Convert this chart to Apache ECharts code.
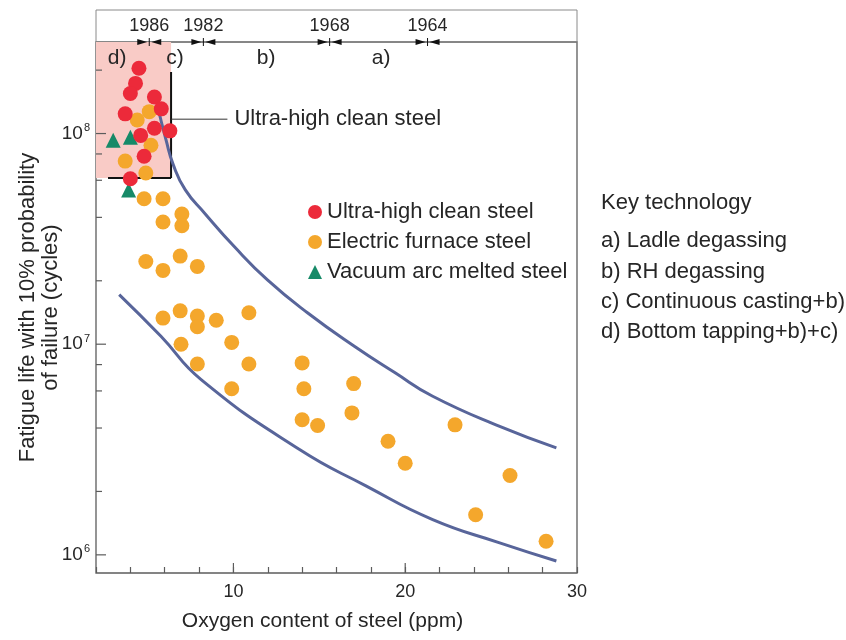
<!DOCTYPE html>
<html>
<head>
<meta charset="utf-8">
<script src="https://cdn.jsdelivr.net/npm/echarts@6/dist/echarts.min.js"></script>
<style>
  html, body { margin: 0; background: #fff; }
  #chart { width: 846px; height: 640px; }
</style>
</head>
<body>
<div id="chart"></div>
<script>
// values: [oxygen ppm, cycles]
const ultraCleanSteel = [
  [4.5, 2.04e8], [4.3, 1.73e8], [4.0, 1.55e8], [5.4, 1.49e8], [5.8, 1.31e8],
  [3.7, 1.24e8], [5.4, 1.06e8], [4.6, 9.8e7], [6.3, 1.03e8], [4.8, 7.8e7], [4.0, 6.1e7]
]
const electricFurnaceSteel = [
  [5.1, 1.27e8], [4.4, 1.16e8], [5.2, 8.8e7], [3.7, 7.4e7], [4.9, 6.5e7],
  [4.8, 4.9e7], [5.9, 4.9e7], [7.0, 4.15e7], [5.9, 3.8e7], [7.0, 3.65e7],
  [4.9, 2.47e7], [6.9, 2.62e7], [5.9, 2.24e7], [7.9, 2.34e7],
  [5.9, 1.33e7], [6.9, 1.44e7], [7.9, 1.36e7], [7.9, 1.21e7], [9.0, 1.3e7], [10.9, 1.41e7],
  [6.95, 1.0e7], [9.9, 1.02e7], [7.9, 8.05e6], [10.9, 8.05e6], [14.0, 8.15e6],
  [9.9, 6.14e6], [14.1, 6.14e6], [14.0, 4.38e6], [14.9, 4.11e6], [17.0, 6.5e6], [16.9, 4.72e6],
  [19.0, 3.46e6], [20.0, 2.72e6], [22.9, 4.14e6], [26.1, 2.38e6], [24.1, 1.55e6], [28.2, 1.16e6]
]
const vacuumArcSteel = [[3.0, 9.3e7], [4.0, 9.6e7], [3.9, 5.4e7]]

// scatter band curves
const upperBand = [
  [5.59, 1.34e8], [6.08, 9.3e7], [6.5, 7.1e7], [7.2, 5.4e7], [8.31, 4.2e7], [10.06, 2.9e7],
  [11.98, 2.02e7], [14.31, 1.41e7], [17.06, 9.75e6], [19.39, 7.33e6], [21.6, 5.66e6],
  [25.5, 4.07e6], [28.8, 3.22e6]
]
const lowerBand = [
  [3.35, 1.72e7], [5.78, 1.09e7], [8.12, 6.79e6], [13.85, 3.16e6], [17.74, 2.12e6],
  [21.6, 1.47e6], [25.5, 1.14e6], [28.8, 9.35e5]
]

// year markers on the top edge and technology periods
const yearLabels = ['1986', '1982', '1968', '1964']
const yearOxygen = [5.1, 8.25, 15.6, 21.3]
const periodLabels = ['d)', 'c)', 'b)', 'a)']
const periodOxygen = [3.23, 6.6, 11.9, 18.6]
const keyTechnology = [
  'a) Ladle degassing',
  'b) RH degassing',
  'c) Continuous casting+b)',
  'd) Bottom tapping+b)+c)'
]

// ultra-high clean steel region: [x0, x1, yLow, yHigh]
const cleanRegion = [2, 6.37, 6.15e7, 2.72e8]

// axis ranges and ticks
const xMin = 2
const xMax = 30
const yMin = 8.2e5
const yMax = 2.72e8
const xMajorTicks = [10, 20]
const yMajorTicks = [1e6, 1e7, 1e8]
const yMinorTicks = [2e6, 4e6, 6e6, 8e6, 2e7, 4e7, 6e7, 8e7, 2e8]

const FONT = '"Liberation Sans", Arial, sans-serif'
const TEXT = '#262626'
const AXIS = '#5c5c5c'
const chart = echarts.init(document.getElementById('chart'))

function tickSeries(values, onY, len) {
  return {
    type: 'custom',
    silent: true,
    z: 5,
    data: values.map(v => (onY ? [xMin, v] : [v, yMin])),
    renderItem: function (params, api) {
      const p = api.coord([api.value(0), api.value(1)])
      const shape = onY
        ? { x1: p[0], y1: p[1], x2: p[0] + len, y2: p[1] }
        : { x1: p[0], y1: p[1], x2: p[0], y2: p[1] - len }
      return { type: 'line', shape: shape, style: { stroke: AXIS, lineWidth: 1.2 } }
    }
  }
}

chart.setOption({
  animation: false,
  textStyle: { fontFamily: FONT, color: TEXT },
  grid: {
    left: 96, right: 269, top: 42, bottom: 67,
    outerBoundsMode: 'none',
    containLabel: false,
    show: true, borderColor: AXIS, borderWidth: 1.3
  },
  legend: {
    orient: 'vertical',
    left: 303,
    top: 196,
    itemWidth: 14,
    itemHeight: 14,
    itemGap: 8,
    textStyle: { fontSize: 22, lineHeight: 22, color: TEXT, fontFamily: FONT },
    data: [
      { name: 'Ultra-high clean steel', icon: 'circle' },
      { name: 'Electric furnace steel', icon: 'circle' },
      { name: 'Vacuum arc melted steel', icon: 'triangle' }
    ]
  },
  graphic: [
    {
      type: 'rect',
      shape: { x: 96, y: 10, width: 481, height: 32 },
      style: { fill: 'none', stroke: '#8a8a8a', lineWidth: 1 }
    },
    {
      type: 'text', left: 601, top: 192,
      style: { text: 'Key technology', font: '22px ' + FONT, fill: TEXT }
    },
    {
      type: 'text', left: 601, top: 226,
      style: { text: keyTechnology.join('\n'), font: '22px ' + FONT, lineHeight: 30.3, fill: TEXT }
    }
  ],
  xAxis: {
    type: 'value',
    min: xMin,
    max: xMax,
    interval: 2,
    name: 'Oxygen content of steel (ppm)',
    nameLocation: 'middle',
    nameGap: 38,
    nameMoveOverlap: false,
    nameTextStyle: { fontSize: 21, color: TEXT, padding: [0, 28, 0, 0] },
    axisLine: { show: false },
    axisTick: { inside: true, length: 6, lineStyle: { color: AXIS, width: 1.2 } },
    splitLine: { show: false },
    axisLabel: {
      fontSize: 18,
      color: TEXT,
      margin: 10,
      formatter: v => (v % 10 === 0 ? String(v) : '')
    }
  },
  yAxis: {
    type: 'log',
    logBase: 10,
    min: yMin,
    max: yMax,
    name: 'Fatigue life with 10% probability\nof failure (cycles)',
    nameLocation: 'middle',
    nameRotate: 90,
    nameGap: 34,
    nameMoveOverlap: false,
    nameTextStyle: { fontSize: 22, lineHeight: 23, color: TEXT, align: 'center' },
    axisLine: { show: false },
    axisTick: { show: false },
    splitLine: { show: false },
    axisLabel: {
      margin: 6,
      color: TEXT,
      fontSize: 19,
      showMinLabel: false,
      showMaxLabel: false,
      formatter: function (v) {
        const e = Math.log10(v)
        if (Math.abs(e - Math.round(e)) > 1e-6) return ''
        return '10{sup|' + Math.round(e) + '}'
      },
      rich: {
        sup: { fontSize: 11, verticalAlign: 'top', lineHeight: 22, padding: [0, 0, 6, 1], color: TEXT }
      }
    }
  },
  series: [
    {
      // pink region for ultra-high clean steel
      type: 'custom',
      silent: true,
      z: 1,
      data: [cleanRegion],
      renderItem: function (params, api) {
        const tl = api.coord([api.value(0), api.value(3)])
        const br = api.coord([api.value(1), api.value(2)])
        const edgeTop = api.coord([api.value(1), 1.96e8])[1]
        const edgeLeft = api.coord([2.7, api.value(2)])[0]
        return {
          type: 'group',
          children: [
            {
              type: 'rect',
              shape: { x: tl[0], y: tl[1], width: br[0] - tl[0], height: br[1] - tl[1] },
              style: { fill: '#f9cbc6' }
            },
            { type: 'line', shape: { x1: br[0], y1: edgeTop, x2: br[0], y2: br[1] }, style: { stroke: '#111', lineWidth: 2 } },
            { type: 'line', shape: { x1: edgeLeft, y1: br[1], x2: br[0], y2: br[1] }, style: { stroke: '#111', lineWidth: 2 } }
          ]
        }
      }
    },
    {
      // callout for the region
      type: 'custom',
      silent: true,
      z: 1,
      data: [[6.37, 1.17e8]],
      renderItem: function (params, api) {
        const a = api.coord([api.value(0), api.value(1)])
        const b = api.coord([9.65, api.value(1)])
        return {
          type: 'group',
          children: [
            { type: 'line', shape: { x1: a[0], y1: a[1], x2: b[0], y2: b[1] }, style: { stroke: '#333', lineWidth: 1 } },
            {
              type: 'text',
              style: {
                text: 'Ultra-high clean steel', x: b[0] + 7, y: b[1],
                align: 'left', verticalAlign: 'middle', font: '22px ' + FONT, fill: TEXT
              }
            }
          ]
        }
      }
    },
    {
      // year markers on the top edge
      type: 'custom',
      silent: true,
      z: 6,
      data: yearOxygen.map(x => [x, yMax]),
      renderItem: function (params, api) {
        const p = api.coord([api.value(0), api.value(1)])
        const x = p[0]
        const y = p[1]
        return {
          type: 'group',
          children: [
            { type: 'line', shape: { x1: x, y1: y - 4, x2: x, y2: y + 4 }, style: { stroke: '#111', lineWidth: 1 } },
            { type: 'polygon', shape: { points: [[x - 12, y - 3], [x - 12, y + 3], [x - 2, y]] }, style: { fill: '#111' } },
            { type: 'polygon', shape: { points: [[x + 12, y - 3], [x + 12, y + 3], [x + 2, y]] }, style: { fill: '#111' } },
            {
              type: 'text',
              style: {
                text: yearLabels[params.dataIndex], x: x, y: y - 16,
                align: 'center', verticalAlign: 'middle', font: '18px ' + FONT, fill: TEXT
              }
            }
          ]
        }
      }
    },
    {
      // technology period labels
      type: 'custom',
      silent: true,
      z: 6,
      data: periodOxygen.map(x => [x, 2.28e8]),
      renderItem: function (params, api) {
        const p = api.coord([api.value(0), api.value(1)])
        return {
          type: 'text',
          style: {
            text: periodLabels[params.dataIndex], x: p[0], y: p[1],
            align: 'center', verticalAlign: 'middle', font: '21px ' + FONT, fill: TEXT
          }
        }
      }
    },
    tickSeries(yMajorTicks, true, 10),
    tickSeries(yMinorTicks, true, 6),
    tickSeries(xMajorTicks, false, 10),
    {
      type: 'line',
      data: upperBand,
      smooth: 0.5,
      showSymbol: false,
      silent: true,
      z: 2,
      lineStyle: { color: '#58659a', width: 3 }
    },
    {
      type: 'line',
      data: lowerBand,
      smooth: 0.5,
      showSymbol: false,
      silent: true,
      z: 2,
      lineStyle: { color: '#58659a', width: 3 }
    },
    {
      name: 'Electric furnace steel',
      type: 'scatter',
      data: electricFurnaceSteel,
      symbol: 'circle',
      symbolSize: 15,
      z: 3,
      itemStyle: { color: '#f4a72c', opacity: 1 }
    },
    {
      name: 'Vacuum arc melted steel',
      type: 'scatter',
      data: vacuumArcSteel,
      symbol: 'triangle',
      symbolSize: 15,
      z: 4,
      itemStyle: { color: '#178a68', opacity: 1 }
    },
    {
      name: 'Ultra-high clean steel',
      type: 'scatter',
      data: ultraCleanSteel,
      symbol: 'circle',
      symbolSize: 15,
      z: 4,
      itemStyle: { color: '#ec2a3a', opacity: 1 }
    }
  ]
})
</script>
</body>
</html>
